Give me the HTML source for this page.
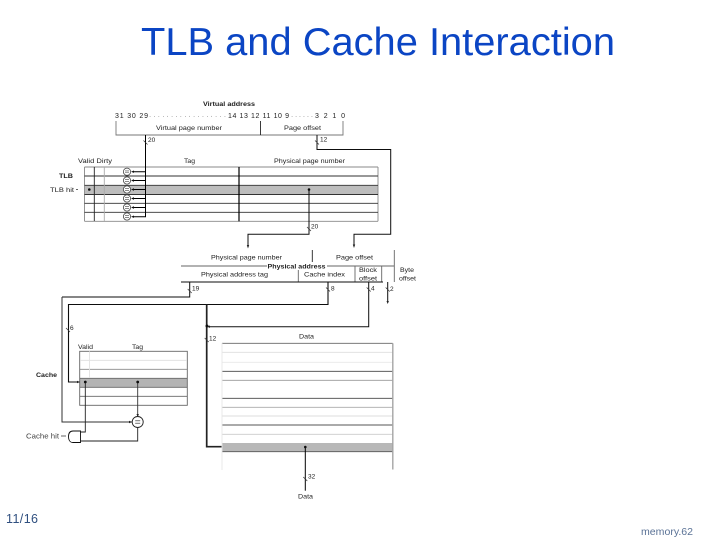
<!DOCTYPE html>
<html>
<head>
<meta charset="utf-8">
<style>
html,body{margin:0;padding:0;background:#fff;width:720px;height:540px;overflow:hidden}
svg{display:block}
text{font-family:"Liberation Sans",sans-serif}
</style>
</head>
<body>
<svg width="720" height="540" viewBox="0 0 720 540" xmlns="http://www.w3.org/2000/svg">
<defs><filter id="b" x="-5%" y="-5%" width="110%" height="110%"><feGaussianBlur stdDeviation="0.3"/></filter></defs>
<text x="141" y="55" font-size="39" fill="#0b45c4" textLength="474" lengthAdjust="spacingAndGlyphs">TLB and Cache Interaction</text>
<text x="6" y="523" font-size="12.500" fill="#2f4f7f" textLength="32" lengthAdjust="spacing">11/16</text>
<text x="641" y="535" font-size="10.500" fill="#5a7296" textLength="52" lengthAdjust="spacingAndGlyphs">memory.62</text>

<g filter="url(#b)">
<!-- gray fills -->
<rect x="85" y="185" width="293" height="10" fill="#bdbdbd"/>
<rect x="80" y="378" width="107" height="9.500" fill="#b4b4b4"/>
<rect x="222" y="443" width="171" height="8.500" fill="#b8b8b8"/>

<!-- virtual address box -->
<path d="M116 121V135H343V121" fill="none" stroke="#777" stroke-width="0.9"/>
<path d="M260.500 121V135" stroke="#222" stroke-width="0.9"/>

<!-- TLB table -->
<g stroke="#666" stroke-width="0.9" fill="none">
<path d="M84.500 167H378M84.500 221.300H378M84.500 167V221.300M378 167V221.300" stroke="#888"/>
<path d="M84.500 176H378M84.500 185.300H378M84.500 194.500H378M84.500 203.300H378M84.500 212.300H378" stroke="#333"/>
<path d="M104.300 167V221" stroke="#aaa"/>
<path d="M94.300 167V221" stroke="#222"/>
</g>
<path d="M239 167V221.300" stroke="#000" stroke-width="1.200"/>

<!-- TLB comparators -->
<g fill="#fff" stroke="#444" stroke-width="0.8">
<circle cx="127" cy="171.700" r="3.600"/><circle cx="127" cy="180.500" r="3.600"/><circle cx="127" cy="189.500" r="3.600"/>
<circle cx="127" cy="198.500" r="3.600"/><circle cx="127" cy="207.500" r="3.600"/><circle cx="127" cy="216.500" r="3.600"/>
</g>
<path d="M125 170.900H129M125 172.500H129M125 179.700H129M125 181.300H129M125 188.700H129M125 190.300H129M125 197.700H129M125 199.300H129M125 206.700H129M125 208.300H129M125 215.700H129M125 217.300H129" stroke="#444" stroke-width="0.6"/>
<path d="M145.500 135V216.700H134M145.500 171.700H134M145.500 180.500H134M145.500 189.500H134M145.500 198.500H134M145.500 207.500H134" stroke="#000" stroke-width="1" fill="none"/>
<g fill="#111">
<path d="M134 170.500V172.900L131 171.700Z"/><path d="M134 179.300V181.700L131 180.500Z"/><path d="M134 188.300V190.700L131 189.500Z"/>
<path d="M134 197.300V199.700L131 198.500Z"/><path d="M134 206.300V208.700L131 207.500Z"/><path d="M134 215.500V217.900L131 216.700Z"/>
</g>

<!-- connectors -->
<g stroke="#111" stroke-width="1" fill="none">
<path d="M317 135V149.500H390.700V234.300H354V245"/>
<path d="M309 189V234.300H248V246"/>
<path d="M189.700 282V297H62"/>
<path d="M62 297V422H132" stroke="#333"/>
<path d="M328 282V304.500H68.500V382H80" stroke-width="1.100"/>
<path d="M368.700 282V326.700H209"/>
<path d="M387.700 282V302"/>
</g>
<path d="M206.700 304.500V446.700H222" stroke="#222" stroke-width="1.700" fill="none"/>

<!-- physical address box -->
<g stroke="#666" stroke-width="0.9" fill="none">
<path d="M181 266H394.300"/>
<path d="M394.300 250V282M298.300 266V282M355 266V282M381.700 266V282"/>
</g>
<path d="M181 282H383" stroke="#111" stroke-width="1"/>
<path d="M312.300 250V263" stroke="#222" stroke-width="0.9"/>

<!-- cache table -->
<g stroke="#666" stroke-width="0.9" fill="none">
<rect x="79.700" y="351.300" width="107.600" height="54"/>
<path d="M80 360.300H187" stroke="#ddd"/>
<path d="M80 369.300H187" stroke="#888"/>
<path d="M80 378.300H187M80 387.300H187M80 396.300H187"/>
<path d="M89.500 351.300V378" stroke="#e3e3e3"/>
</g>
<!-- comparator -->
<circle cx="137.700" cy="422" r="5.500" fill="#fff" stroke="#222" stroke-width="0.9"/>
<path d="M135.200 420.800H140.200M135.200 423.200H140.200" stroke="#222" stroke-width="0.7"/>
<path d="M137.700 382V416.500" stroke="#333" stroke-width="0.9"/>
<path d="M137.700 427.500V441H80.500M85.300 382V432H80.500" stroke="#222" stroke-width="0.9" fill="none"/>
<path d="M80.500 431H73C69.500 431 68.500 434 68.500 436.700C68.500 439.300 69.500 442.500 73 442.500H80.500Z" fill="#fff" stroke="#111" stroke-width="0.9"/>

<!-- data table -->
<g fill="none" stroke-width="0.9">
<path d="M222 343.300H392.700" stroke="#666"/>
<path d="M222 352.300H392.700" stroke="#ddd"/>
<path d="M222 362.300H392.700" stroke="#e8e8e8"/>
<path d="M222 371.300H392.700" stroke="#444"/>
<path d="M222 380.300H392.700" stroke="#999"/>
<path d="M222 398.300H392.700" stroke="#444"/>
<path d="M222 407.300H392.700" stroke="#aaa"/>
<path d="M222 416H392.700" stroke="#ddd"/>
<path d="M222 425H392.700" stroke="#555"/>
<path d="M222 434.300H392.700" stroke="#ccc"/>
<path d="M222 451.700H392.700" stroke="#555"/>
<path d="M392.800 343.300V469.500" stroke="#a5a5a5" stroke-width="1.400"/>
<path d="M222 343V470" stroke="#e6e6e6"/>
</g>
<path d="M305.300 447V490.700" stroke="#000" stroke-width="1"/>

<!-- dots -->
<g fill="#111">
<circle cx="89.300" cy="189.500" r="1.300"/><circle cx="309" cy="189.500" r="1.300"/>
<circle cx="85.300" cy="382" r="1.400"/><circle cx="137.700" cy="382" r="1.400"/>
<circle cx="305.300" cy="447" r="1.300"/><circle cx="207" cy="326" r="1.500"/>
</g>
<!-- arrowheads -->
<g fill="#222">
<path d="M246.800 245H249.200L248 248.500Z"/><path d="M352.800 244.500H355.200L354 248Z"/>
<path d="M77 380.800V383.200L80 382Z"/>
<path d="M129 420.800V423.200L132.200 422Z"/>
<path d="M136.500 414H138.900L137.700 417Z"/>
<path d="M386.500 301H388.900L387.700 304Z"/>
<path d="M210 325.500V327.900L207 326.700Z"/>
</g>
<!-- slashes -->
<path d="M143.500 140.500L147.500 144.500M315 140.500L319 144.500M307 227L311 231M187.700 289L191.700 293M326 287.500L330 291.500M366.700 287.500L370.700 291.500M385.700 287.500L389.700 291.500M66 328L70 332M204.700 338L208.700 342M303.300 477L307.300 481" stroke="#333" stroke-width="0.7"/>

<!-- labels -->
<g font-size="6.500" fill="#222">
<text x="203" y="106" font-weight="bold" textLength="52" lengthAdjust="spacingAndGlyphs">Virtual address</text>
<text x="115" y="118" font-size="7" textLength="33" lengthAdjust="spacing">31 30 29</text>
<text x="149" y="118" textLength="77" lengthAdjust="spacing" fill="#555">··················</text>
<text x="228" y="118" font-size="7" textLength="61" lengthAdjust="spacing">14 13 12 11 10 9</text>
<text x="291" y="118" textLength="22" lengthAdjust="spacing" fill="#555">······</text>
<text x="315" y="118" font-size="7" textLength="30" lengthAdjust="spacing">3 2 1 0</text>
<text x="156" y="130" textLength="66" lengthAdjust="spacingAndGlyphs">Virtual page number</text>
<text x="284" y="130" textLength="37" lengthAdjust="spacingAndGlyphs">Page offset</text>
<text x="148" y="142">20</text>
<text x="320" y="141.500">12</text>
<text x="78" y="163" textLength="34" lengthAdjust="spacingAndGlyphs">Valid Dirty</text>
<text x="184" y="163" textLength="11" lengthAdjust="spacingAndGlyphs">Tag</text>
<text x="274" y="163" textLength="71" lengthAdjust="spacingAndGlyphs">Physical page number</text>
<text x="59" y="178" font-weight="bold" textLength="14" lengthAdjust="spacingAndGlyphs">TLB</text>
<text x="50" y="192" textLength="24" lengthAdjust="spacingAndGlyphs">TLB hit</text>
<text x="311" y="228.500">20</text>
<text x="211" y="259.500" textLength="71" lengthAdjust="spacingAndGlyphs">Physical page number</text>
<text x="336" y="259.500" textLength="37" lengthAdjust="spacingAndGlyphs">Page offset</text>
<rect x="267" y="262" width="60" height="8" fill="#fff"/>
<text x="267.500" y="268.500" font-weight="bold" textLength="58" lengthAdjust="spacingAndGlyphs">Physical address</text>
<text x="201" y="276.500" textLength="67" lengthAdjust="spacingAndGlyphs">Physical address tag</text>
<text x="304" y="276.500" textLength="41" lengthAdjust="spacingAndGlyphs">Cache index</text>
<text x="359" y="272" textLength="18" lengthAdjust="spacingAndGlyphs">Block</text>
<text x="359" y="280.500" textLength="18" lengthAdjust="spacingAndGlyphs">offset</text>
<text x="400" y="272" textLength="14" lengthAdjust="spacingAndGlyphs">Byte</text>
<text x="399" y="280.500" textLength="17" lengthAdjust="spacingAndGlyphs">offset</text>
<text x="192" y="290.500">19</text>
<text x="331" y="290.500">8</text>
<text x="371" y="290.500">4</text>
<text x="390" y="291">2</text>
<text x="70" y="330">6</text>
<text x="209" y="340.500">12</text>
<text x="299" y="338.500" textLength="15" lengthAdjust="spacingAndGlyphs">Data</text>
<text x="78" y="349" textLength="15" lengthAdjust="spacingAndGlyphs">Valid</text>
<text x="132" y="349" textLength="11" lengthAdjust="spacingAndGlyphs">Tag</text>
<text x="36" y="377" font-weight="bold" textLength="21" lengthAdjust="spacingAndGlyphs">Cache</text>
<text x="26" y="438.500" font-size="7.500" textLength="33" lengthAdjust="spacingAndGlyphs" fill="#444">Cache hit</text>
<text x="308" y="478.500">32</text>
<text x="298" y="498.500" textLength="15" lengthAdjust="spacingAndGlyphs">Data</text>
</g>
<path d="M76 189.500H78M61 436H66" stroke="#333" stroke-width="0.8"/>
</g>
</svg>
</body>
</html>
